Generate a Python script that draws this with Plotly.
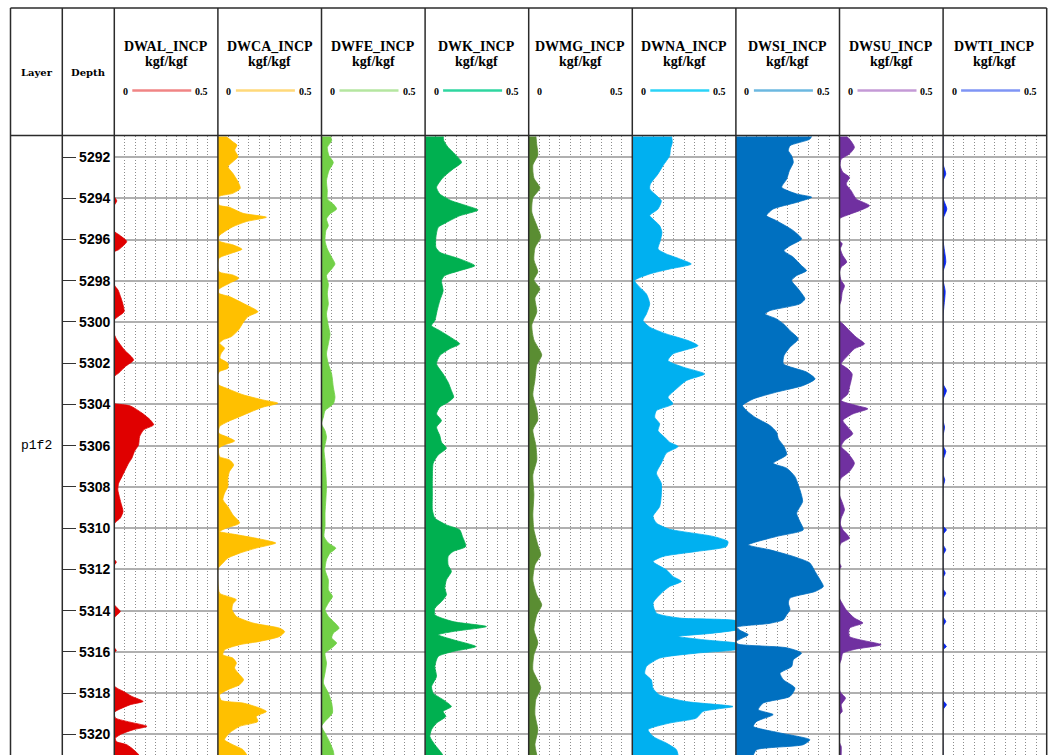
import plotly.graph_objects as go

W, H = 1055, 755

# ---- log layout values -------------------------------------------------
depth_top, depth_bottom = 5291.0, 5321.0
depth_ticks = list(range(5292, 5321, 2))
layer_names = ["p1f2"]
layer_mid_depth = [5306.0]

curve_names = ["DWAL_INCP", "DWCA_INCP", "DWFE_INCP", "DWK_INCP", "DWMG_INCP",
               "DWNA_INCP", "DWSI_INCP", "DWSU_INCP", "DWTI_INCP"]
curve_unit = "kgf/kgf"
scale_left, scale_right = 0, 0.5
fill_colors = ["#e00000", "#ffc000", "#72d047", "#00b050", "#5a8d32",
               "#00b0f0", "#0070c0", "#7030a0", "#0a28f0"]
legend_colors = ["#f08585", "#ffd97a", "#b5e6a0", "#2fd6a0", None,
                 "#2bd3f7", "#6cb8e0", "#c49ad6", "#7f95f5"]

# ---- curve samples (depth m, value kgf/kgf) ----------------------------
al_depth = [5290.9, 5293.9, 5294.13, 5294.35, 5295.6, 5295.75, 5296.1, 5296.5, 5296.6,
            5298.2, 5298.45, 5298.77, 5299.08, 5299.5, 5299.74, 5299.9, 5300.6, 5300.87,
            5301.35, 5301.84, 5302.16, 5302.48, 5302.65, 5303.95, 5303.97, 5304.07, 5304.42,
            5304.75, 5304.99, 5305.23, 5305.56, 5305.96, 5306.28, 5306.6, 5306.85, 5307.17,
            5307.5, 5307.82, 5308.14, 5308.46, 5308.78, 5309.19, 5309.51, 5309.72, 5309.8,
            5311.5, 5311.65, 5311.8, 5313.7, 5314.04, 5314.35, 5315.8, 5315.92, 5316.05,
            5317.65, 5317.92, 5318.16, 5318.4, 5318.56, 5318.8, 5318.93, 5319.2, 5319.37,
            5319.61, 5319.77, 5319.97, 5320.18, 5320.35, 5320.5, 5320.74, 5321.0]
al_value = [0, 0, 0.012, 0, 0, 0.02, 0.06, 0.02, 0,
            0, 0.018, 0.03, 0.04, 0.047, 0.018, 0, 0, 0.013,
            0.048, 0.093, 0.053, 0.021, 0, 0, 0.005, 0.077, 0.134,
            0.174, 0.19, 0.142, 0.122, 0.117, 0.097, 0.085, 0.069, 0.053,
            0.037, 0.021, 0.017, 0.024, 0.032, 0.042, 0.029, 0.005, 0,
            0, 0.01, 0, 0, 0.029, 0, 0, 0.01, 0,
            0, 0.045, 0.085, 0.139, 0.077, 0.021, 0, 0.005, 0.06,
            0.158, 0.093, 0.037, 0.005, 0.01, 0.06, 0.093, 0.12]

ca_depth = [5290.9, 5291.01, 5291.26, 5291.42, 5291.66, 5291.98, 5292.23, 5292.47, 5292.79,
            5293.2, 5293.52, 5293.76, 5293.92, 5294.33, 5294.44, 5294.73, 5294.92, 5295.13,
            5295.38, 5295.62, 5295.83, 5296.07, 5296.26, 5296.47, 5296.67, 5296.91, 5297.56,
            5297.72, 5297.88, 5298.12, 5298.41, 5298.61, 5298.77, 5299.09, 5299.5, 5299.74,
            5300.06, 5300.38, 5300.71, 5300.87, 5301.03, 5301.27, 5301.51, 5301.75, 5302.0,
            5302.24, 5302.4, 5302.56, 5303.05, 5303.21, 5303.53, 5303.78, 5303.94, 5304.13,
            5304.35, 5304.59, 5304.83, 5305.07, 5305.39, 5305.59, 5305.77, 5305.96, 5306.12,
            5306.53, 5306.69, 5306.93, 5307.25, 5307.57, 5307.98, 5308.3, 5308.62, 5308.95,
            5309.35, 5309.75, 5310.0, 5310.16, 5310.3, 5310.5, 5310.72, 5310.96, 5311.21,
            5311.45, 5311.69, 5311.86, 5311.98, 5313.15, 5313.31, 5313.47, 5313.67, 5313.96,
            5314.28, 5314.6, 5314.85, 5315.01, 5315.25, 5315.49, 5315.65, 5315.9, 5316.14,
            5316.3, 5316.54, 5316.78, 5317.11, 5317.35, 5317.59, 5317.83, 5318.08, 5318.35,
            5318.48, 5318.72, 5318.89, 5319.13, 5319.37, 5319.61, 5319.93, 5320.26, 5320.5,
            5320.74, 5321.0]
ca_value = [0.03, 0.041, 0.072, 0.092, 0.081, 0.097, 0.072, 0.048, 0.072,
            0.097, 0.108, 0.072, 0.005, 0.005, 0.056, 0.121, 0.234, 0.137,
            0.072, 0.032, 0.005, 0.005, 0.072, 0.116, 0.064, 0.005, 0.005,
            0.072, 0.101, 0.056, 0.005, 0.005, 0.056, 0.121, 0.193, 0.145,
            0.12, 0.1, 0.065, 0.024, 0.008, 0.032, 0.016, 0.01, 0.048,
            0.048, 0.008, 0.0, 0.004, 0.04, 0.121, 0.217, 0.29, 0.217,
            0.161, 0.105, 0.048, 0.008, 0.004, 0.048, 0.081, 0.032, 0.004,
            0.008, 0.056, 0.076, 0.056, 0.048, 0.048, 0.032, 0.024, 0.048,
            0.072, 0.105, 0.04, 0.008, 0.08, 0.19, 0.279, 0.186, 0.105,
            0.048, 0.024, 0.008, 0.0, 0.008, 0.048, 0.089, 0.072, 0.068,
            0.089, 0.169, 0.298, 0.322, 0.298, 0.201, 0.105, 0.032, 0.024,
            0.072, 0.089, 0.08, 0.105, 0.124, 0.105, 0.048, 0.008, 0.016,
            0.121, 0.201, 0.234, 0.185, 0.193, 0.105, 0.056, 0.032, 0.072,
            0.121, 0.14]

fe_depth = [5290.9, 5291.2, 5291.53, 5291.93, 5292.26, 5292.66, 5293.15, 5293.63, 5294.03,
            5294.28, 5294.52, 5294.76, 5295.0, 5295.33, 5295.57, 5296.06, 5296.46, 5296.86,
            5297.19, 5297.43, 5297.75, 5298.15, 5298.64, 5299.12, 5299.61, 5300.18, 5300.58,
            5301.06, 5301.55, 5302.03, 5302.52, 5303.16, 5303.65, 5303.97, 5304.3, 5304.62,
            5304.94, 5305.27, 5305.59, 5306.2, 5306.69, 5307.33, 5307.98, 5308.62, 5309.27,
            5309.92, 5310.4, 5310.72, 5310.97, 5311.21, 5311.53, 5312.02, 5312.5, 5312.99,
            5313.31, 5313.63, 5313.96, 5314.28, 5314.6, 5314.85, 5315.09, 5315.33, 5315.57,
            5315.81, 5316.06, 5316.54, 5317.02, 5317.51, 5317.99, 5318.48, 5318.96, 5319.37,
            5319.61, 5319.93, 5320.41, 5320.81, 5321.0]
fe_value = [0.04, 0.049, 0.028, 0.036, 0.057, 0.036, 0.024, 0.028, 0.028,
            0.057, 0.073, 0.041, 0.024, 0.033, 0.021, 0.017, 0.028, 0.049,
            0.065, 0.049, 0.024, 0.033, 0.028, 0.033, 0.024, 0.033, 0.041,
            0.033, 0.024, 0.033, 0.049, 0.057, 0.065, 0.057, 0.017, 0.009,
            0.0, 0.017, 0.024, 0.012, 0.017, 0.021, 0.024, 0.021, 0.017,
            0.017, 0.012, 0.033, 0.069, 0.041, 0.024, 0.017, 0.033, 0.033,
            0.053, 0.033, 0.017, 0.033, 0.065, 0.085, 0.057, 0.049, 0.073,
            0.049, 0.017, 0.024, 0.017, 0.009, 0.033, 0.049, 0.053, 0.017,
            0.0, 0.017, 0.041, 0.057, 0.06]

k_depth = [5290.9, 5291.2, 5291.53, 5291.85, 5292.26, 5292.58, 5292.99, 5293.47, 5293.79,
           5294.12, 5294.36, 5294.57, 5294.85, 5295.17, 5295.41, 5295.9, 5296.38, 5296.62,
           5296.94, 5297.27, 5297.51, 5297.75, 5297.99, 5298.48, 5298.96, 5299.45, 5299.93,
           5300.18, 5300.42, 5300.82, 5301.06, 5301.3, 5301.63, 5302.03, 5302.52, 5302.92,
           5303.33, 5303.65, 5303.89, 5304.13, 5304.46, 5304.78, 5305.1, 5305.51, 5305.83,
           5306.12, 5306.45, 5306.85, 5307.66, 5308.46, 5309.11, 5309.51, 5309.84, 5310.08,
           5310.4, 5310.89, 5311.13, 5311.37, 5311.78, 5312.1, 5312.5, 5312.91, 5313.23,
           5313.56, 5313.88, 5314.2, 5314.53, 5314.77, 5315.01, 5315.17, 5315.41, 5315.74,
           5315.98, 5316.22, 5316.71, 5317.19, 5317.68, 5318.0, 5318.32, 5318.65, 5318.89,
           5319.13, 5319.45, 5319.77, 5320.1, 5320.5, 5320.9, 5321.0]
k_value = [0.087, 0.09, 0.111, 0.143, 0.176, 0.135, 0.087, 0.055, 0.071,
           0.127, 0.2, 0.256, 0.167, 0.103, 0.063, 0.052, 0.052, 0.071,
           0.167, 0.24, 0.167, 0.095, 0.079, 0.087, 0.071, 0.058, 0.047,
           0.031, 0.071, 0.135, 0.167, 0.119, 0.071, 0.055, 0.087, 0.111,
           0.127, 0.138, 0.111, 0.071, 0.055, 0.079, 0.055, 0.071, 0.079,
           0.103, 0.063, 0.039, 0.035, 0.035, 0.035, 0.047, 0.103, 0.167,
           0.18, 0.196, 0.135, 0.111, 0.111, 0.127, 0.103, 0.095, 0.103,
           0.079, 0.047, 0.047, 0.135, 0.296, 0.135, 0.063, 0.135, 0.245,
           0.135, 0.063, 0.047, 0.055, 0.031, 0.039, 0.087, 0.127, 0.087,
           0.1, 0.055, 0.031, 0.023, 0.047, 0.079, 0.085]

mg_depth = [5290.9, 5291.42, 5291.9, 5292.39, 5293.02, 5293.5, 5293.99, 5294.67, 5295.45,
            5295.88, 5296.41, 5296.99, 5297.57, 5297.96, 5298.4, 5298.83, 5299.51, 5300.14,
            5300.87, 5301.6, 5302.08, 5302.81, 5303.54, 5304.26, 5304.75, 5305.23, 5305.96,
            5306.69, 5307.41, 5308.38, 5309.35, 5310.08, 5310.81, 5311.3, 5311.78, 5312.51,
            5313.24, 5313.72, 5314.2, 5314.93, 5315.56, 5316.14, 5316.87, 5317.74, 5318.32,
            5319.05, 5319.77, 5320.5, 5321.0]
mg_value = [0.034, 0.039, 0.044, 0.02, 0.025, 0.054, 0.02, 0.015, 0.044,
            0.058, 0.03, 0.025, 0.044, 0.025, 0.054, 0.03, 0.039, 0.015,
            0.025, 0.063, 0.039, 0.03, 0.02, 0.039, 0.044, 0.02, 0.034,
            0.039, 0.02, 0.025, 0.02, 0.025, 0.044, 0.058, 0.03, 0.02,
            0.039, 0.063, 0.039, 0.025, 0.044, 0.025, 0.02, 0.058, 0.034,
            0.03, 0.044, 0.03, 0.039]

na_depth = [5290.9, 5291.29, 5291.61, 5291.94, 5292.42, 5292.82, 5293.31, 5293.55, 5293.79,
            5294.12, 5294.52, 5294.84, 5295.09, 5295.33, 5295.65, 5296.06, 5296.46, 5296.7,
            5296.94, 5297.19, 5297.43, 5297.67, 5297.99, 5298.31, 5298.64, 5299.12, 5299.61,
            5299.93, 5300.25, 5300.58, 5300.9, 5301.15, 5301.55, 5301.87, 5302.19, 5302.52,
            5302.84, 5303.24, 5303.65, 5303.97, 5304.3, 5304.62, 5304.94, 5305.27, 5305.59,
            5305.83, 5306.04, 5306.36, 5306.85, 5307.33, 5307.82, 5308.38, 5308.95, 5309.43,
            5309.75, 5310.05, 5310.4, 5310.65, 5310.89, 5311.13, 5311.37, 5311.62, 5312.02,
            5312.34, 5312.58, 5312.83, 5313.15, 5313.63, 5314.12, 5314.36, 5314.53, 5314.85,
            5315.09, 5315.25, 5315.41, 5315.65, 5315.86, 5316.06, 5316.3, 5316.71, 5317.04,
            5317.36, 5317.77, 5318.09, 5318.41, 5318.65, 5318.89, 5319.21, 5319.45, 5319.77,
            5320.1, 5320.42, 5320.74, 5321.0]
na_value = [0.188, 0.193, 0.184, 0.18, 0.148, 0.124, 0.087, 0.084, 0.108,
            0.14, 0.124, 0.084, 0.108, 0.132, 0.143, 0.135, 0.124, 0.164,
            0.229, 0.285, 0.18, 0.084, 0.011, 0.035, 0.068, 0.084, 0.068,
            0.052, 0.084, 0.164, 0.269, 0.317, 0.196, 0.172, 0.245, 0.349,
            0.261, 0.213, 0.172, 0.196, 0.116, 0.108, 0.132, 0.124, 0.156,
            0.18, 0.221, 0.164, 0.14, 0.116, 0.14, 0.14, 0.132, 0.1,
            0.116, 0.18, 0.39, 0.462, 0.454, 0.309, 0.148, 0.1, 0.164,
            0.196, 0.237, 0.18, 0.14, 0.1, 0.116, 0.229, 0.52, 0.53,
            0.39, 0.221, 0.341, 0.55, 0.52, 0.309, 0.132, 0.068, 0.06,
            0.092, 0.1, 0.132, 0.261, 0.486, 0.341, 0.309, 0.18, 0.076,
            0.1, 0.164, 0.213, 0.221]

si_depth = [5290.9, 5291.13, 5291.45, 5291.69, 5291.94, 5292.26, 5292.66, 5293.07, 5293.47,
            5293.79, 5293.95, 5294.2, 5294.52, 5294.84, 5295.09, 5295.57, 5295.97, 5296.3,
            5296.54, 5296.86, 5297.27, 5297.51, 5297.75, 5297.99, 5298.4, 5298.88, 5299.12,
            5299.45, 5299.61, 5299.85, 5300.09, 5300.42, 5300.82, 5301.22, 5301.63, 5302.03,
            5302.43, 5302.76, 5303.08, 5303.4, 5303.73, 5304.05, 5304.3, 5304.62, 5305.02,
            5305.34, 5305.67, 5306.04, 5306.44, 5306.85, 5307.09, 5307.5, 5308.14, 5308.71,
            5309.27, 5309.68, 5310.08, 5310.4, 5310.81, 5311.05, 5311.37, 5311.69, 5312.1,
            5312.5, 5312.83, 5313.07, 5313.39, 5313.63, 5313.96, 5314.2, 5314.44, 5314.62,
            5314.8, 5314.95, 5315.17, 5315.38, 5315.5, 5315.62, 5315.8, 5316.06, 5316.38,
            5316.71, 5317.03, 5317.35, 5317.75, 5318.16, 5318.48, 5318.8, 5319.04, 5319.37,
            5319.61, 5319.93, 5320.26, 5320.5, 5320.74, 5321.0]
si_value = [0.37, 0.357, 0.261, 0.253, 0.269, 0.277, 0.258, 0.245, 0.221,
            0.293, 0.366, 0.293, 0.18, 0.148, 0.196, 0.277, 0.317, 0.261,
            0.232, 0.277, 0.317, 0.341, 0.293, 0.269, 0.301, 0.333, 0.309,
            0.164, 0.14, 0.196, 0.229, 0.261, 0.301, 0.261, 0.232, 0.229,
            0.341, 0.382, 0.325, 0.196, 0.084, 0.032, 0.052, 0.092, 0.164,
            0.196, 0.205, 0.232, 0.245, 0.18, 0.245, 0.285, 0.309, 0.322,
            0.293, 0.309, 0.325, 0.196, 0.06, 0.164, 0.277, 0.357, 0.382,
            0.406, 0.422, 0.382, 0.261, 0.253, 0.261, 0.245, 0.229, 0.16,
            0.005, 0.02, 0.06, 0.02, 0.0, 0.01, 0.245, 0.317, 0.277,
            0.269, 0.213, 0.229, 0.285, 0.261, 0.132, 0.108, 0.18, 0.1,
            0.084, 0.213, 0.357, 0.325, 0.1, 0.084]

su_depth = [5290.9, 5291.13, 5291.53, 5291.85, 5292.1, 5292.42, 5292.74, 5292.98, 5293.31,
            5293.63, 5294.03, 5294.36, 5294.6, 5294.84, 5295.0, 5296.05, 5296.21, 5296.45,
            5296.78, 5297.1, 5297.34, 5297.6, 5297.99, 5298.24, 5298.56, 5298.96, 5299.2,
            5299.95, 5300.09, 5300.42, 5300.74, 5301.06, 5301.3, 5301.63, 5302.03, 5302.27,
            5302.52, 5302.84, 5303.16, 5303.49, 5303.81, 5304.05, 5304.21, 5304.46, 5304.78,
            5305.1, 5305.42, 5305.75, 5306.04, 5306.36, 5306.85, 5307.25, 5307.57, 5307.74,
            5308.4, 5308.62, 5309.11, 5309.51, 5309.8, 5310.08, 5310.48, 5310.72, 5310.9,
            5311.7, 5311.86, 5312.0, 5313.4, 5313.56, 5313.96, 5314.36, 5314.6, 5314.85,
            5315.25, 5315.65, 5315.86, 5316.06, 5316.38, 5316.6, 5317.85, 5318.0, 5318.24,
            5318.56, 5318.89, 5319.05, 5320.4, 5320.58, 5321.0]
su_value = [0.024, 0.048, 0.072, 0.048, 0.008, 0.003, 0.016, 0.048, 0.032,
            0.056, 0.081, 0.145, 0.097, 0.032, 0.0, 0.0, 0.013, 0.004,
            0.016, 0.035, 0.008, 0.0, 0.008, 0.024, 0.013, 0.008, 0.0,
            0.0, 0.016, 0.048, 0.081, 0.121, 0.072, 0.04, 0.008, 0.04,
            0.061, 0.056, 0.048, 0.04, 0.008, 0.081, 0.137, 0.064, 0.016,
            0.04, 0.064, 0.024, 0.008, 0.04, 0.072, 0.048, 0.008, 0.0,
            0.0, 0.008, 0.024, 0.008, 0.004, 0.016, 0.048, 0.008, 0.0,
            0.0, 0.008, 0.0, 0.0, 0.008, 0.032, 0.072, 0.113, 0.048,
            0.048, 0.201, 0.081, 0.016, 0.008, 0.0, 0.0, 0.008, 0.029,
            0.008, 0.013, 0.0, 0.0, 0.008, 0.008]

ti_depth = [5290.9, 5292.34, 5292.82, 5293.15, 5294.0, 5294.52, 5295.0, 5296.06, 5297.1,
            5297.55, 5297.99, 5298.5, 5299.7, 5303.0, 5303.33, 5303.75, 5304.8, 5305.1,
            5305.5, 5306.0, 5306.28, 5306.7, 5307.4, 5307.66, 5308.0, 5309.9, 5310.08,
            5310.3, 5310.8, 5311.05, 5311.3, 5311.95, 5312.18, 5312.4, 5312.95, 5313.15,
            5313.4, 5314.3, 5314.52, 5314.75, 5315.55, 5315.74, 5315.9, 5318.35, 5318.56,
            5318.8, 5321.0]
ti_value = [0.0, 0.0, 0.013, 0.0, 0.0, 0.018, 0.0, 0.0, 0.013,
            0.0, 0.0, 0.01, 0.0, 0.0, 0.016, 0.0, 0.0, 0.007,
            0.0, 0.0, 0.013, 0.0, 0.0, 0.008, 0.0, 0.0, 0.016,
            0.0, 0.0, 0.013, 0.0, 0.0, 0.01, 0.0, 0.0, 0.013,
            0.0, 0.0, 0.013, 0.0, 0.0, 0.016, 0.0, 0.0, 0.016,
            0.0, 0.0]

curve_depths = [al_depth, ca_depth, fe_depth, k_depth, mg_depth,
                na_depth, si_depth, su_depth, ti_depth]
curve_values = [al_value, ca_value, fe_value, k_value, mg_value,
                na_value, si_value, su_value, ti_value]

# ---- page geometry (pixels) --------------------------------------------
frame_left, frame_right = 10.5, 1046.7
frame_top, header_bottom = 8.0, 135.5
col_layer_right = 62.3
track_left0, track_width = 114.3, 103.6
track_top = 136.4


def px(x):
    return x / W


def py(y):
    return 1 - y / H


fig = go.Figure()
layout_axes = {}
for i, name in enumerate(curve_names):
    ax_id = "" if i == 0 else str(i + 1)
    left = track_left0 + i * track_width
    right = left + track_width
    fig.add_trace(go.Scatter(
        x=curve_values[i], y=curve_depths[i],
        xaxis="x" + ax_id, yaxis="y",
        mode="lines", fill="tozerox",
        fillcolor=fill_colors[i],
        line=dict(color=fill_colors[i], width=0.8, shape="spline", smoothing=0.6),
        hoverinfo="skip", showlegend=False,
    ))
    layout_axes["xaxis" + ax_id] = dict(
        domain=[px(left), px(right)], range=[scale_left, scale_right],
        anchor="y", showticklabels=False, ticks="",
        showgrid=True, dtick=0.05, tick0=0, gridcolor="#8c8c8c",
        gridwidth=1, griddash="1px,2px", zeroline=False, showline=False,
        fixedrange=True,
    )

fig.update_layout(**layout_axes)
fig.update_layout(
    width=W, height=H,
    margin=dict(l=0, r=0, t=0, b=0),
    paper_bgcolor="white", plot_bgcolor="white",
    yaxis=dict(
        domain=[0, py(track_top)], range=[depth_bottom, depth_top],
        anchor="free", position=px(col_layer_right), side="right",
        tickvals=depth_ticks, ticktext=[str(d) for d in depth_ticks],
        ticks="outside", ticklen=13, tickwidth=1.2, tickcolor="#333333",
        tickfont=dict(family="Liberation Sans", size=14, color="black", weight="bold"),
        showgrid=True, gridcolor="#b0b0b0", gridwidth=1.8,
        zeroline=False, showline=False, fixedrange=True,
    ),
)

shapes = []
line_style = dict(color="#2b2b2b", width=1.5)
# outer frame and header rule
shapes.append(dict(type="line", xref="paper", yref="paper", x0=px(frame_left), x1=px(frame_right),
                   y0=py(frame_top), y1=py(frame_top), line=line_style, layer="above"))
shapes.append(dict(type="line", xref="paper", yref="paper", x0=px(frame_left), x1=px(frame_right),
                   y0=py(header_bottom), y1=py(header_bottom), line=line_style, layer="above"))
col_edges = [frame_left, col_layer_right] + [track_left0 + i * track_width for i in range(len(curve_names))] + [frame_right]
for xe in col_edges:
    shapes.append(dict(type="line", xref="paper", yref="paper", x0=px(xe), x1=px(xe),
                       y0=py(frame_top), y1=0, line=line_style, layer="above"))

annotations = []
head_font = dict(family="Liberation Serif", size=14, color="black")
for i, name in enumerate(curve_names):
    left = track_left0 + i * track_width
    cx = left + track_width / 2
    annotations.append(dict(text="<b>" + name + "</b>", x=px(cx), y=py(47), xref="paper", yref="paper",
                            showarrow=False, xanchor="center", yanchor="middle", font=head_font))
    annotations.append(dict(text="<b>" + curve_unit + "</b>", x=px(cx), y=py(61), xref="paper", yref="paper",
                            showarrow=False, xanchor="center", yanchor="middle", font=head_font))
    annotations.append(dict(text="<b>" + str(scale_left) + "</b>", x=px(left + 11), y=py(91), xref="paper",
                            yref="paper", showarrow=False, xanchor="center", yanchor="middle",
                            font=dict(family="Liberation Serif", size=10, color="black")))
    annotations.append(dict(text="<b>" + str(scale_right) + "</b>", x=px(left + 87.5), y=py(91), xref="paper",
                            yref="paper", showarrow=False, xanchor="center", yanchor="middle",
                            font=dict(family="Liberation Serif", size=10, color="black")))
    if legend_colors[i]:
        shapes.append(dict(type="line", xref="paper", yref="paper", x0=px(left + 18), x1=px(left + 77),
                           y0=py(90.5), y1=py(90.5), line=dict(color=legend_colors[i], width=2.6)))

col_font = dict(family="DejaVu Serif", size=10, color="black")
annotations.append(dict(text="<b>Layer</b>", x=px(37), y=py(72), xref="paper", yref="paper",
                        showarrow=False, xanchor="center", yanchor="middle", font=col_font))
annotations.append(dict(text="<b>Depth</b>", x=px(88.3), y=py(72), xref="paper", yref="paper",
                        showarrow=False, xanchor="center", yanchor="middle", font=col_font))
for name, d in zip(layer_names, layer_mid_depth):
    annotations.append(dict(text=name, x=px(36), y=d, xref="paper", yref="y",
                            showarrow=False, xanchor="center", yanchor="middle",
                            font=dict(family="Liberation Mono", size=13, color="black")))

fig.update_layout(shapes=shapes, annotations=annotations)
fig.write_html("out.html")
